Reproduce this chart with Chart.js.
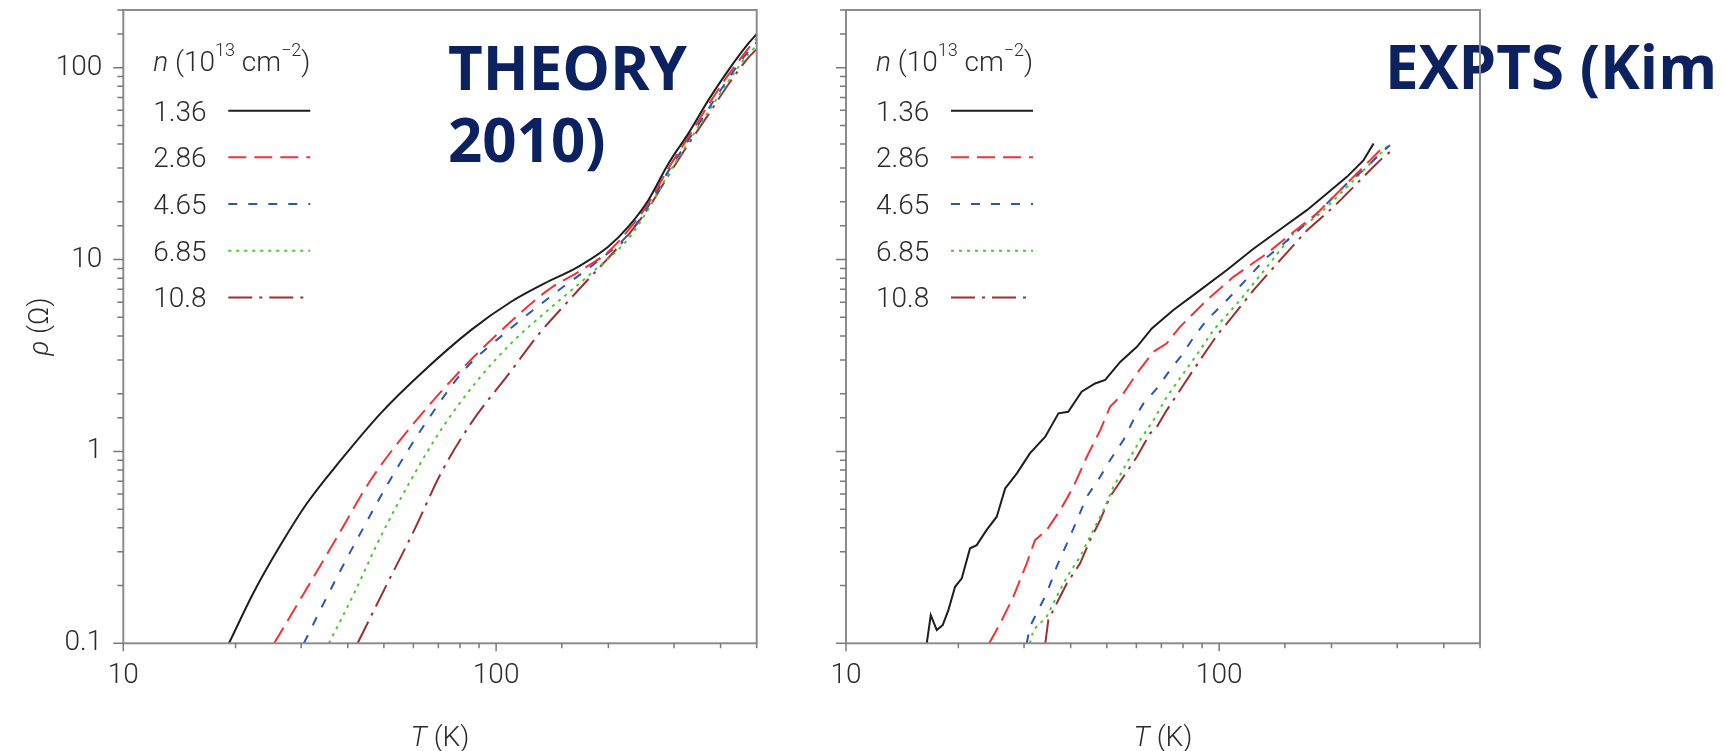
<!DOCTYPE html>
<html>
<head>
<meta charset="utf-8">
<script src="https://cdn.jsdelivr.net/npm/chart.js@4.4.0/dist/chart.umd.min.js"></script>
<style>
  body { margin: 0; background: #fff; width: 1726px; height: 751px; position: relative; overflow: hidden; }
  .panel { position: absolute; top: 0; height: 751px; }
  #left { left: 0; width: 780px; }
  #right { left: 780px; width: 946px; }
</style>
</head>
<body>
<div class="panel" id="left"><canvas id="theoryChart"></canvas></div>
<div class="panel" id="right"><canvas id="exptChart"></canvas></div>
<script>
// carrier density of each curve, 10^13 cm^-2
const densities = ['1.36', '2.86', '4.65', '6.85', '10.8'];

// tick labels
const xTickLabels = [10, 100];
const yTickLabels = [0.1, 1, 10, 100];

// theory (2010), T in K and rho in ohm
const theoryT_136 = [19.2, 22.4, 26.4, 31.1, 38.3, 49.0, 62.9, 85.6, 109.7, 134.9, 165.9, 199.8, 226, 256, 290, 328, 371, 420, 475, 500];
const theoryRho_136 = [0.1, 0.185, 0.325, 0.537, 0.90, 1.58, 2.55, 4.29, 6.03, 7.52, 9.17, 11.66, 14.8, 20.4, 31.7, 45.5, 67.8, 97.2, 133.8, 150];
const theoryT_286 = [25.4, 30.5, 37.5, 46.1, 59.1, 78.9, 99, 137.7, 169.3, 200, 226, 256, 290, 328, 371, 420, 475, 500];
const theoryRho_286 = [0.1, 0.182, 0.359, 0.71, 1.345, 2.55, 3.96, 6.93, 8.82, 11.0, 14.2, 19.6, 30, 43.5, 64, 92, 126, 142];
const theoryT_465 = [30.5, 36.7, 44.2, 53.2, 65.5, 82.2, 105.3, 143.5, 183.9, 226, 256, 290, 328, 371, 420, 475, 500];
const theoryRho_465 = [0.1, 0.2055, 0.405, 0.769, 1.457, 2.66, 4.12, 6.67, 9.55, 13.5, 19.0, 29, 42, 61, 88, 122, 136];
const theoryT_685 = [35.6, 41.6, 49.0, 59.1, 71.1, 89.3, 112, 140, 180, 226, 256, 290, 328, 371, 420, 475, 500];
const theoryRho_685 = [0.1, 0.182, 0.359, 0.71, 1.293, 2.355, 3.81, 5.6, 8.5, 12.8, 18.3, 28, 41, 59, 85, 118, 130];
const theoryT_108 = [42.5, 51.1, 60.3, 71.1, 85.6, 108.4, 129.5, 160, 180, 200, 226, 256, 290, 328, 371, 420, 475, 500];
const theoryRho_108 = [0.1, 0.2055, 0.389, 0.769, 1.40, 2.55, 4.04, 6.4, 8.2, 10.2, 13.4, 18.5, 27.5, 40, 57, 82, 113, 125];

// experiments (Kim)
const exptT_136 = [16.46, 16.87, 17.51, 18.17, 18.81, 19.6, 20.43, 21.5, 22.4, 23.8, 25.35, 26.7, 28.7, 31.1, 34.2, 37.1, 39.4, 42.8, 46.5, 49.5, 54.3, 60.2, 66.0, 75.4, 88.9, 104.9, 123.6, 148.7, 171.8, 194.5, 220, 243.8, 259.3];
const exptRho_136 = [0.1, 0.1404, 0.1173, 0.1246, 0.149, 0.197, 0.218, 0.313, 0.325, 0.389, 0.457, 0.642, 0.769, 0.977, 1.193, 1.58, 1.61, 2.05, 2.26, 2.36, 2.93, 3.51, 4.38, 5.46, 6.93, 8.82, 11.4, 14.8, 18.1, 22.1, 27.0, 33.0, 40.3];
const exptT_286 = [24.2, 25.9, 28.1, 30.5, 32.1, 34.5, 37.5, 40.7, 44.2, 48.0, 51.0, 55.4, 60.2, 66.7, 72.4, 78.6, 92.7, 109.2, 134.3, 155, 182.8, 206.8, 229, 254, 275.3];
const exptRho_286 = [0.1, 0.127, 0.175, 0.261, 0.345, 0.389, 0.495, 0.655, 0.938, 1.29, 1.71, 2.01, 2.55, 3.31, 3.66, 4.47, 6.15, 8.13, 10.77, 13.5, 17.4, 22.1, 27.0, 33.0, 38.7];
const exptT_465 = [30.5, 31.1, 32.4, 34.5, 36.7, 39.1, 41.6, 44.2, 48.0, 51.0, 55.4, 58.9, 62.7, 68.1, 73.9, 79.4, 86.2, 92.7, 109.2, 134.3, 148.7, 179, 198.4, 220, 248.9, 270.2, 287];
const exptRho_465 = [0.1, 0.122, 0.143, 0.182, 0.251, 0.332, 0.439, 0.581, 0.738, 0.90, 1.147, 1.457, 1.78, 2.13, 2.66, 3.18, 4.04, 4.84, 6.67, 10.3, 12.1, 16.7, 20.4, 24.9, 30.4, 35.8, 39.5];
const exptT_685 = [31.1, 31.8, 34.5, 36.7, 39.1, 42.4, 46.0, 49.0, 52.1, 56.5, 61.4, 66.7, 72.4, 80.2, 88.9, 96.5, 113.8, 134.3, 158.2, 186.6, 206.8, 238.8, 264.8, 287.3];
const exptRho_685 = [0.1, 0.1173, 0.1376, 0.175, 0.222, 0.283, 0.389, 0.495, 0.655, 0.867, 1.147, 1.457, 1.93, 2.55, 3.38, 4.29, 6.15, 9.17, 13.7, 17.4, 21.2, 28.1, 34.3, 40.3];
const exptT_108 = [34.2, 34.85, 36.7, 39.1, 42.4, 45.1, 48.0, 51.0, 55.4, 60.2, 65.3, 68.1, 72.4, 78.6, 85.3, 92.7, 99.5, 104.9, 123.6, 145.7, 171.8, 202.5, 229, 254, 275.8, 287.3];
const exptRho_108 = [0.1, 0.1323, 0.1616, 0.2055, 0.261, 0.345, 0.439, 0.581, 0.738, 0.938, 1.243, 1.345, 1.643, 2.09, 2.66, 3.38, 4.12, 4.65, 6.93, 9.94, 14.2, 18.8, 23.9, 29.3, 34.3, 36.5];

const seriesStyle = [
  { color: '#1e1e1e', dash: [] },
  { color: '#f03339', dash: [18, 8] },
  { color: '#2b57b3', dash: [9, 11] },
  { color: '#4cc634', dash: [3, 5] },
  { color: '#9c2f33', dash: [24, 7, 3, 7] }
];

const labelFont = '"Roboto", "Open Sans", sans-serif';
const textColor = '#2b2b2b';
const fs = 28;

function isDecade(v) {
  const l = Math.log10(v);
  return Math.abs(l - Math.round(l)) < 1e-6;
}

function makeDatasets(tList, rhoList, smooth) {
  return densities.map((n, i) => ({
    label: n,
    data: tList[i].map((t, j) => ({ x: t, y: rhoList[i][j] })),
    borderColor: seriesStyle[i].color,
    borderDash: seriesStyle[i].dash,
    borderWidth: 2,
    pointRadius: 0,
    fill: false,
    tension: smooth ? 0.4 : 0,
    cubicInterpolationMode: smooth ? 'monotone' : 'default'
  }));
}

// frame, tick marks, legend, axis titles and the big caption
const panelDecor = {
  id: 'panelDecor',
  afterDraw(chart, args, opts) {
    const ctx = chart.ctx, a = chart.chartArea;
    const xs = chart.scales.x, ys = chart.scales.y;
    const light = '300 ' + fs + 'px ' + labelFont;
    const italic = 'italic 300 ' + fs + 'px ' + labelFont;
    ctx.save();

    // caption
    ctx.fillStyle = '#0c2160';
    ctx.font = 'bold 60px "Open Sans", sans-serif';
    ctx.textAlign = 'left';
    ctx.textBaseline = 'alphabetic';
    opts.caption.forEach((line, i) => ctx.fillText(line, opts.captionX, opts.captionY + i * 72));

    // frame
    ctx.strokeStyle = '#8c8c8c';
    ctx.lineWidth = 2;
    ctx.strokeRect(a.left, a.top, a.right - a.left, a.bottom - a.top);

    // ticks
    ctx.strokeStyle = '#7a7a7a';
    ctx.lineWidth = 1.5;
    ctx.beginPath();
    xs.ticks.forEach(t => {
      const px = xs.getPixelForValue(t.value);
      ctx.moveTo(px, a.bottom);
      ctx.lineTo(px, a.bottom + (isDecade(t.value) ? 8 : 5));
    });
    ys.ticks.forEach(t => {
      const py = ys.getPixelForValue(t.value);
      ctx.moveTo(a.left, py);
      ctx.lineTo(a.left - (isDecade(t.value) ? 10 : 6), py);
    });
    ctx.stroke();

    // legend
    ctx.fillStyle = textColor;
    ctx.textBaseline = 'alphabetic';
    let x = a.left + 30;
    const hy = a.top + 61;
    const parts = [
      [italic, 'n ', 0],
      [light, '(10', 0],
      ['300 18px ' + labelFont, '13', -15],
      [light, ' cm', 0],
      ['300 18px ' + labelFont, '\u22122', -15],
      [light, ')', 0]
    ];
    parts.forEach(p => {
      ctx.font = p[0];
      ctx.fillText(p[1], x, hy + p[2]);
      x += ctx.measureText(p[1]).width;
    });
    chart.data.datasets.forEach((ds, i) => {
      const by = a.top + 110.7 + i * 46.67;
      ctx.font = light;
      ctx.fillStyle = textColor;
      ctx.fillText(ds.label, a.left + 30, by);
      ctx.strokeStyle = ds.borderColor;
      ctx.lineWidth = 2;
      ctx.setLineDash(ds.borderDash);
      ctx.beginPath();
      ctx.moveTo(a.left + 105, by - 10);
      ctx.lineTo(a.left + 187, by - 10);
      ctx.stroke();
      ctx.setLineDash([]);
    });

    // x axis title
    ctx.fillStyle = textColor;
    ctx.font = italic;
    const wT = ctx.measureText('T').width;
    ctx.font = light;
    const wK = ctx.measureText(' (K)').width;
    const cx = (a.left + a.right) / 2 - (wT + wK) / 2;
    ctx.textAlign = 'left';
    ctx.font = italic;
    ctx.fillText('T', cx, 746);
    ctx.font = light;
    ctx.fillText(' (K)', cx + wT, 746);

    // y axis title
    if (opts.yTitle) {
      ctx.translate(48, (a.top + a.bottom) / 2);
      ctx.rotate(-Math.PI / 2);
      ctx.font = italic;
      const wr = ctx.measureText('\u03c1').width;
      ctx.font = light;
      const wo = ctx.measureText(' (\u03a9)').width;
      const sx = -(wr + wo) / 2;
      ctx.font = italic;
      ctx.fillText('\u03c1', sx, 0);
      ctx.font = light;
      ctx.fillText(' (\u03a9)', sx + wr, 0);
    }
    ctx.restore();
  }
};

function makeOptions(padRight, yWidth, showYLabels, caption, captionX, captionY) {
  return {
    responsive: true,
    maintainAspectRatio: false,
    animation: false,
    layout: { padding: { top: 10, right: padRight, left: 0, bottom: 0 } },
    scales: {
      x: {
        type: 'logarithmic',
        min: 10,
        max: 500,
        grid: { display: false, drawTicks: false },
        border: { display: false },
        afterFit: (s) => {
          s.height = 751 - 643.3;
          s.paddingLeft = 0;
          s.paddingRight = 0;
        },
        ticks: {
          autoSkip: false,
          maxRotation: 0,
          minRotation: 0,
          padding: 16,
          color: textColor,
          font: { family: labelFont, size: fs, weight: '300' },
          callback: (v) => xTickLabels.includes(Math.round(v)) && isDecade(v) ? String(Math.round(v)) : ''
        }
      },
      y: {
        type: 'logarithmic',
        min: 0.1,
        max: 200,
        grid: { display: false, drawTicks: false },
        border: { display: false },
        afterFit: (s) => {
          s.width = yWidth;
          s.paddingTop = 0;
          s.paddingBottom = 0;
        },
        ticks: {
          display: showYLabels,
          autoSkip: false,
          padding: 21,
          color: textColor,
          font: { family: labelFont, size: fs, weight: '300' },
          callback: (v) => {
            if (!isDecade(v)) return '';
            const lab = yTickLabels.find(t => Math.abs(t - v) < 1e-6 * Math.max(1, v));
            return lab === undefined ? '' : String(lab);
          }
        }
      }
    },
    plugins: {
      legend: { display: false },
      tooltip: { enabled: false },
      panelDecor: { caption: caption, captionX: captionX, captionY: captionY, yTitle: showYLabels }
    }
  };
}

new Chart(document.getElementById('theoryChart'), {
  type: 'line',
  data: {
    datasets: makeDatasets(
      [theoryT_136, theoryT_286, theoryT_465, theoryT_685, theoryT_108],
      [theoryRho_136, theoryRho_286, theoryRho_465, theoryRho_685, theoryRho_108],
      true)
  },
  options: makeOptions(780 - 756.7, 123.3, true, ['THEORY', '2010)'], 448, 90),
  plugins: [panelDecor]
});

new Chart(document.getElementById('exptChart'), {
  type: 'line',
  data: {
    datasets: makeDatasets(
      [exptT_136, exptT_286, exptT_465, exptT_685, exptT_108],
      [exptRho_136, exptRho_286, exptRho_465, exptRho_685, exptRho_108],
      false)
  },
  options: makeOptions(1726 - 1480, 846 - 780, false, ['EXPTS (Kim'], 1385 - 780, 89),
  plugins: [panelDecor]
});
</script>
</body>
</html>
